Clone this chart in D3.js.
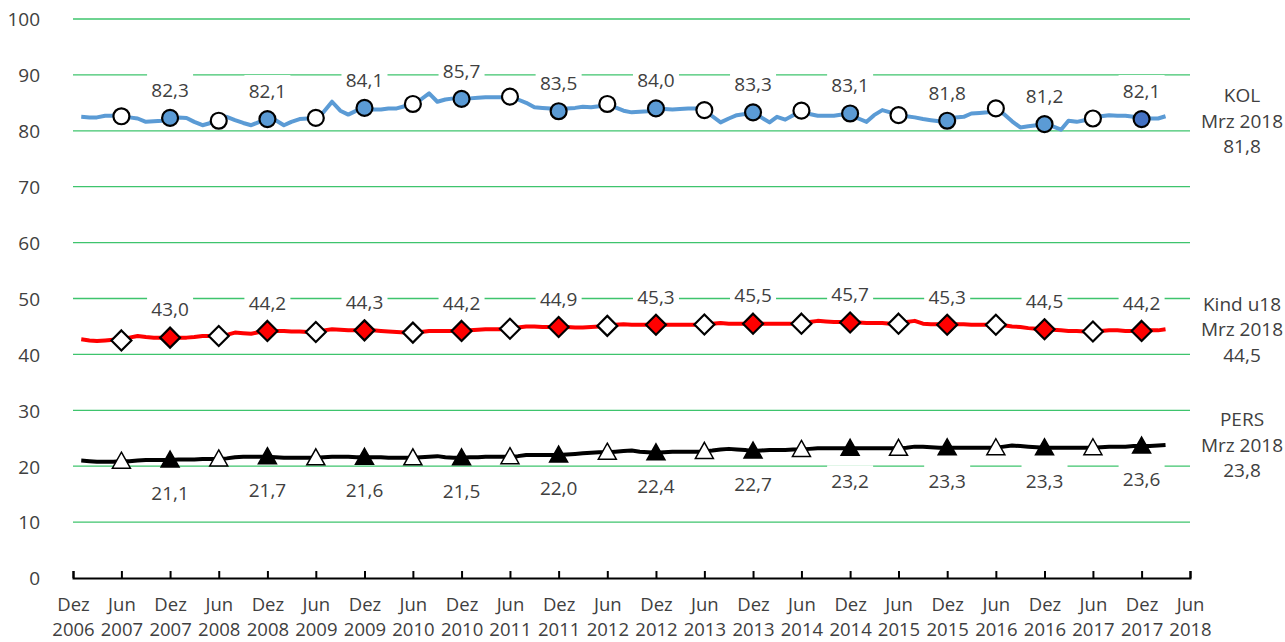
<!DOCTYPE html>
<html>
<head>
<meta charset="utf-8">
<script src="https://cdn.jsdelivr.net/npm/d3@7"></script>
<style>
  body { margin: 0; background: #fff; }
  text { font-family: "Open Sans", sans-serif; font-size: 19px; fill: #404040; }
  .grid line { stroke: #3ec46d; stroke-width: 1.3; }
  .x.axis path, .x.axis line { stroke: #000; stroke-width: 2; }
</style>
</head>
<body>
<div id="chart"></div>
<script>
// monthly values, Jan 2007 .. Mrz 2018
var kol = [
  82.5, 82.4, 82.4, 82.7, 82.7, 82.6, 82.4, 82.2, 81.6, 81.7, 81.8, 82.3,
  82.4, 82.3, 81.6, 81.0, 81.4, 81.8, 82.5, 81.9, 81.4, 81.0, 81.6, 82.1,
  81.9, 81.0, 81.6, 82.1, 82.2, 82.3, 83.4, 85.2, 83.6, 82.9, 83.6, 84.1,
  83.8, 83.8, 84.0, 84.0, 84.4, 84.8, 85.6, 86.7, 85.2, 85.6, 85.8, 85.7,
  85.8, 85.9, 86.0, 86.0, 86.0, 86.1, 85.6, 85.0, 84.2, 84.1, 84.0, 83.5,
  84.0, 84.1, 84.3, 84.2, 84.4, 84.8, 84.2, 83.6, 83.3, 83.4, 83.5, 84.0,
  83.9, 83.8, 83.9, 84.0, 84.0, 83.7, 82.6, 81.5, 82.2, 82.8, 83.0, 83.3,
  82.4, 81.5, 82.5, 82.0, 82.8, 83.6, 83.0, 82.7, 82.7, 82.7, 82.9, 83.1,
  82.2, 81.6, 82.8, 83.7, 83.3, 82.8, 82.6, 82.4, 82.1, 81.9, 81.7, 81.8,
  82.4, 82.5, 83.1, 83.2, 83.3, 84.0, 83.0, 81.7, 80.6, 80.8, 81.0, 81.2,
  80.8, 80.2, 81.8, 81.6, 81.9, 82.2, 82.6, 82.8, 82.7, 82.7, 82.5, 82.1,
  82.2, 82.2, 82.6
];
var kind = [
  42.7, 42.5, 42.4, 42.5, 42.6, 42.5, 43.0, 43.3, 43.1, 43.0, 43.0, 43.0,
  43.0, 43.0, 43.1, 43.3, 43.3, 43.3, 43.5, 43.9, 43.8, 43.7, 44.0, 44.2,
  44.2, 44.2, 44.1, 44.1, 44.0, 44.0, 44.3, 44.5, 44.4, 44.3, 44.3, 44.3,
  44.3, 44.2, 44.1, 44.0, 43.9, 43.9, 44.0, 44.2, 44.2, 44.2, 44.2, 44.2,
  44.3, 44.4, 44.5, 44.5, 44.5, 44.6, 44.8, 45.0, 45.0, 44.9, 44.9, 44.9,
  44.9, 44.8, 44.8, 44.9, 45.0, 45.1, 45.3, 45.4, 45.3, 45.3, 45.3, 45.3,
  45.3, 45.3, 45.3, 45.3, 45.3, 45.35, 45.5, 45.6, 45.5, 45.5, 45.5, 45.5,
  45.5, 45.5, 45.5, 45.5, 45.5, 45.5, 45.8, 46.0, 45.9, 45.8, 45.8, 45.7,
  45.7, 45.6, 45.6, 45.6, 45.5, 45.5, 45.8, 46.0, 45.5, 45.4, 45.4, 45.3,
  45.4, 45.4, 45.3, 45.3, 45.3, 45.3, 45.2, 45.0, 44.9, 44.7, 44.6, 44.5,
  44.4, 44.3, 44.2, 44.2, 44.1, 44.1, 44.2, 44.3, 44.3, 44.2, 44.2, 44.2,
  44.3, 44.3, 44.5
];
var pers = [
  21.0, 20.9, 20.8, 20.8, 20.8, 20.9, 20.9, 21.0, 21.1, 21.1, 21.1, 21.1,
  21.2, 21.2, 21.2, 21.3, 21.3, 21.3, 21.4, 21.6, 21.7, 21.7, 21.7, 21.7,
  21.6, 21.5, 21.5, 21.5, 21.5, 21.5, 21.6, 21.7, 21.7, 21.7, 21.6, 21.6,
  21.6, 21.6, 21.5, 21.5, 21.5, 21.5, 21.6, 21.7, 21.8, 21.6, 21.5, 21.5,
  21.6, 21.6, 21.7, 21.7, 21.7, 21.7, 21.8, 22.0, 22.0, 22.0, 22.0, 22.0,
  22.1, 22.2, 22.3, 22.4, 22.5, 22.5, 22.6, 22.7, 22.8, 22.6, 22.5, 22.4,
  22.5, 22.6, 22.6, 22.6, 22.6, 22.65, 22.8, 23.0, 23.1, 23.0, 22.9, 22.7,
  22.8, 22.9, 22.9, 22.9, 23.0, 23.0, 23.1, 23.2, 23.2, 23.2, 23.2, 23.2,
  23.2, 23.2, 23.2, 23.2, 23.2, 23.2, 23.3, 23.5, 23.5, 23.4, 23.3, 23.3,
  23.3, 23.3, 23.3, 23.3, 23.3, 23.3, 23.5, 23.7, 23.6, 23.5, 23.4, 23.3,
  23.3, 23.3, 23.3, 23.3, 23.3, 23.3, 23.4, 23.5, 23.5, 23.5, 23.6, 23.6,
  23.6, 23.7, 23.8
];

// labels shown at the December markers 2007..2017
var kolDez  = [82.3, 82.1, 84.1, 85.7, 83.5, 84.0, 83.3, 83.1, 81.8, 81.2, 82.1];
var kindDez = [43.0, 44.2, 44.3, 44.2, 44.9, 45.3, 45.5, 45.7, 45.3, 44.5, 44.2];
var persDez = [21.1, 21.7, 21.6, 21.5, 22.0, 22.4, 22.7, 23.2, 23.3, 23.3, 23.6];

var seriesNames = ["KOL", "Kind u18", "PERS"];
var lastMonthLabel = "Mrz 2018";
var lastValues = [81.8, 44.5, 23.8];

var yTicks = [0, 10, 20, 30, 40, 50, 60, 70, 80, 90, 100];

var months = d3.timeMonth.range(new Date(2007, 0, 1), new Date(2018, 3, 1));
var xTicks = d3.timeMonth.range(new Date(2006, 11, 1), new Date(2018, 6, 1), 6);

var width = 1285, height = 642;
var fmt = d3.formatLocale({ decimal: ",", thousands: ".", grouping: [3], currency: ["", "€"] }).format(".1f");

var x = d3.scaleTime()
  .domain([new Date(2006, 11, 1), new Date(2018, 5, 1)])
  .range([73, 1190]);

var y = d3.scaleLinear()
  .domain([0, 100])
  .range([578, 19]);

var svg = d3.select("#chart").append("svg")
  .attr("width", width)
  .attr("height", height);

// gridlines
svg.append("g").attr("class", "grid")
  .selectAll("line")
  .data(yTicks.filter(function (d) { return d > 0; }))
  .enter().append("line")
  .attr("x1", x.range()[0])
  .attr("x2", x.range()[1])
  .attr("y1", function (d) { return y(d); })
  .attr("y2", function (d) { return y(d); });

// y axis labels
var yAxis = svg.append("g")
  .attr("transform", "translate(40,0)")
  .call(d3.axisLeft(y).tickValues(yTicks).tickSize(0).tickPadding(0));
yAxis.select(".domain").remove();
yAxis.selectAll("text").attr("dy", "0.36em")
  .style("font-family", "'Open Sans', sans-serif").style("font-size", "19px").attr("fill", "#404040");

// x axis
var xAxis = svg.append("g")
  .attr("class", "x axis")
  .attr("transform", "translate(0," + y(0) + ")")
  .call(d3.axisBottom(x).tickValues(xTicks).tickSizeInner(-7).tickSizeOuter(-7).tickFormat(""));
xAxis.selectAll(".tick text").remove();
var tl = xAxis.selectAll(".tick").append("text")
  .attr("text-anchor", "middle")
  .style("font-family", "'Open Sans', sans-serif").style("font-size", "18.5px").attr("fill", "#404040");
tl.append("tspan").attr("x", 0).attr("y", 33)
  .text(function (d) { return d.getMonth() === 11 ? "Dez" : "Jun"; });
tl.append("tspan").attr("x", 0).attr("y", 57.5)
  .text(function (d) { return d.getFullYear(); });

// series
var series = [
  { name: "kol", values: kol, dez: kolDez, color: "#5b9bd5", shape: "circle", fill: "#5b9bd5", above: true },
  { name: "kind", values: kind, dez: kindDez, color: "#ff0000", shape: "diamond", fill: "#ff0000", above: true },
  { name: "pers", values: pers, dez: persDez, color: "#000000", shape: "triangle", fill: "#000000", above: false }
];

var line = d3.line()
  .x(function (d, i) { return x(months[i]); })
  .y(function (d) { return y(d); });

series.forEach(function (s) {
  svg.append("path")
    .datum(s.values)
    .attr("fill", "none")
    .attr("stroke", s.color)
    .attr("stroke-width", 4)
    .attr("stroke-linejoin", "round")
    .attr("d", line);
});

function markerPath(shape) {
  if (shape === "circle") return d3.symbol().type(d3.symbolCircle).size(200)();
  if (shape === "diamond") return "M0,-10L10,0L0,10L-10,0Z";
  return "M0,-9L9,7L-9,7Z";
}

series.forEach(function (s) {
  var pts = [];
  s.values.forEach(function (v, i) {
    var m = months[i].getMonth();
    if (m === 5 || m === 11) pts.push({ i: i, v: v, dez: m === 11 });
  });
  svg.append("g").selectAll("path")
    .data(pts)
    .enter().append("path")
    .attr("transform", function (d) { return "translate(" + x(months[d.i]) + "," + y(d.v) + ")"; })
    .attr("d", markerPath(s.shape))
    .attr("fill", function (d, k) {
      if (!d.dez) return "#fff";
      if (s.shape === "circle" && d.i === s.values.length - 4) return "#4472c4";
      return s.fill;
    })
    .attr("stroke", "#000")
    .attr("stroke-width", s.shape === "triangle" ? 1.5 : 2.2);

  // data labels at December markers
  var dezPts = pts.filter(function (d) { return d.dez; });
  var lab = svg.append("g").selectAll("g")
    .data(dezPts)
    .enter().append("g")
    .attr("transform", function (d, k) {
      var cy = s.above ? y(s.dez[k]) - 28 : y(s.dez[k]) + 33;
      return "translate(" + x(months[d.i]) + "," + cy + ")";
    });
  lab.append("rect")
    .attr("x", -23).attr("y", -16)
    .attr("width", 46).attr("height", 32)
    .attr("fill", "#fff");
  lab.append("text")
    .attr("text-anchor", "middle")
    .attr("dy", "0.36em")
    .text(function (d, k) { return fmt(s.dez[k]); });
});

// labels at the right end
var right = svg.append("g").selectAll("text")
  .data(seriesNames)
  .enter().append("text")
  .attr("text-anchor", "middle")
  .attr("transform", function (d, i) { return "translate(1242," + y(lastValues[i]) + ")"; });
right.append("tspan").attr("x", 0).attr("y", -25.5).attr("dy", "0.36em").text(function (d) { return d; });
right.append("tspan").attr("x", 0).attr("y", 0).attr("dy", "0.36em").text(lastMonthLabel);
right.append("tspan").attr("x", 0).attr("y", 25.5).attr("dy", "0.36em").text(function (d, i) { return fmt(lastValues[i]); });
</script>
</body>
</html>
